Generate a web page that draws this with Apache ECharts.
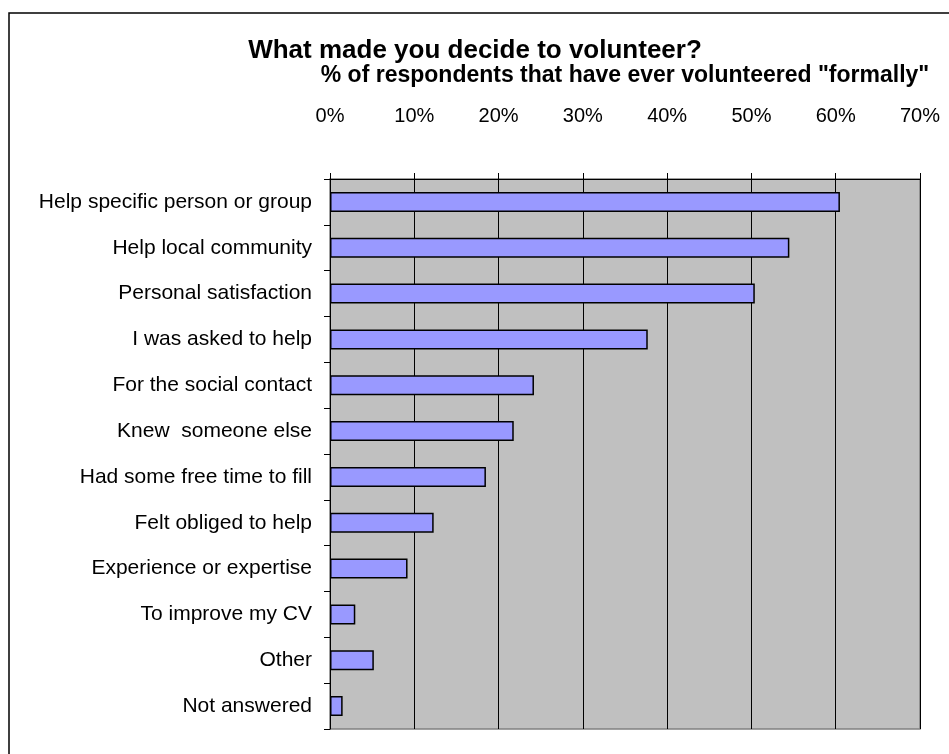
<!DOCTYPE html>
<html>
<head>
<meta charset="utf-8">
<script src="https://cdn.jsdelivr.net/npm/echarts@6/dist/echarts.min.js"></script>
<style>
  html, body { margin: 0; padding: 0; background: #fff; }
  #chart { width: 949px; height: 754px; }
</style>
</head>
<body>
<div id="chart"></div>
<script>
// categories, top to bottom
var reasons = [
  'Help specific person or group',
  'Help local community',
  'Personal satisfaction',
  'I was asked to help',
  'For the social contact',
  'Knew  someone else',
  'Had some free time to fill',
  'Felt obliged to help',
  'Experience or expertise',
  'To improve my CV',
  'Other',
  'Not answered'
];
// % of respondents
var percents = [60.5, 54.5, 50.4, 37.7, 24.2, 21.8, 18.5, 12.3, 9.2, 3.0, 5.2, 1.5];
var ticks = [0, 10, 20, 30, 40, 50, 60, 70];

var font = 'Liberation Sans, Arial, sans-serif';
var chart = echarts.init(document.getElementById('chart'));

var option = {
  backgroundColor: '#fff',
  animation: false,
  title: {
    text: 'What made you decide to volunteer?',
    left: 470,
    textAlign: 'center',
    top: 33,
    textStyle: { fontFamily: font, fontSize: 26, fontWeight: 'bold', color: '#000' }
  },
  graphic: [{
    type: 'rect',
    shape: { x: 9, y: 13, width: 960, height: 760 },
    style: { fill: null, stroke: '#000', lineWidth: 1.5 },
    silent: true
  }],
  grid: {
    left: 330, right: 29, top: 179, bottom: 25,
    show: true,
    backgroundColor: '#c0c0c0',
    borderColor: '#808080',
    borderWidth: 1.5
  },
  xAxis: {
    type: 'value',
    position: 'top',
    min: ticks[0],
    max: ticks[ticks.length - 1],
    interval: 10,
    name: '% of respondents that have ever volunteered "formally"',
    nameLocation: 'middle',
    nameGap: 92,
    nameTextStyle: { fontFamily: font, fontSize: 23, fontWeight: 'bold', color: '#000' },
    axisLine: { show: true, lineStyle: { color: '#000', width: 1 } },
    axisTick: { show: true, length: 6, lineStyle: { color: '#000' } },
    axisLabel: {
      margin: 53,
      fontFamily: font, fontSize: 20, color: '#000',
      formatter: function (v) { return v + '%'; }
    },
    splitLine: { show: true, lineStyle: { color: '#000', width: 1 } }
  },
  yAxis: {
    type: 'category',
    data: reasons,
    inverse: true,
    axisLine: { show: true, lineStyle: { color: '#000', width: 1 } },
    axisTick: { show: true, length: 6, lineStyle: { color: '#000' } },
    axisLabel: { margin: 18, fontFamily: font, fontSize: 21, color: '#000' }
  },
  series: [{
    type: 'bar',
    data: percents,
    barWidth: 20,
    itemStyle: { color: '#9999ff', borderColor: '#000', borderWidth: 1.5 }
  }]
};

chart.setOption(option);
</script>
</body>
</html>
